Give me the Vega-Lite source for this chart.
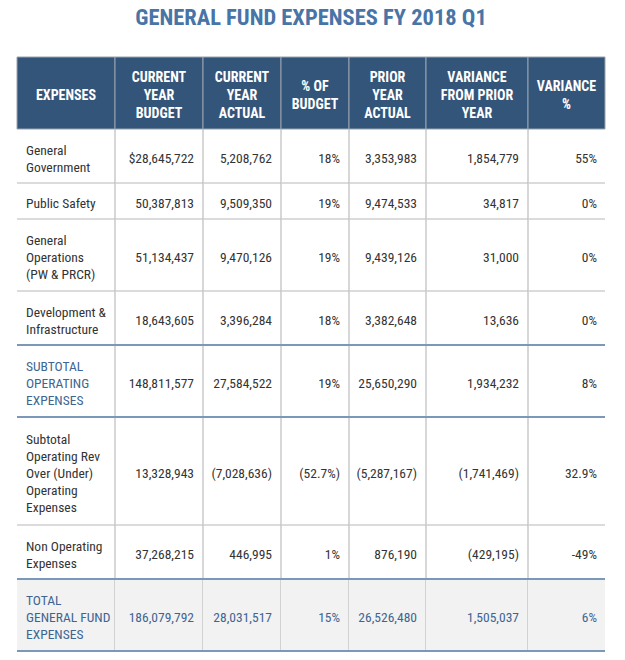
{
  "$schema": "https://vega.github.io/schema/vega-lite/v6.json",
  "padding": {"left": 16, "top": 7, "right": 20, "bottom": 7},
  "background": "#ffffff",
  "title": {
    "text": "GENERAL FUND EXPENSES FY 2018 Q1",
    "fontSize": 22.5,
    "font": "Roboto Condensed, Roboto, sans-serif",
    "fontWeight": "bold",
    "color": "#4874a6",
    "anchor": "middle",
    "offset": 27
  },
  "data": {
    "values": [
      {"row": 0, "section": "header", "expense": "EXPENSES", "budget": "CURRENT\nYEAR\nBUDGET", "actual": "CURRENT\nYEAR\nACTUAL", "pctBudget": "% OF\nBUDGET", "prior": "PRIOR\nYEAR\nACTUAL", "variance": "VARIANCE\nFROM PRIOR\nYEAR", "variancePct": "VARIANCE\n%"},
      {"row": 1, "section": "normal", "expense": "General\nGovernment", "budget": "$28,645,722", "actual": "5,208,762", "pctBudget": "18%", "prior": "3,353,983", "variance": "1,854,779", "variancePct": "55%"},
      {"row": 2, "section": "normal", "expense": "Public Safety", "budget": "50,387,813", "actual": "9,509,350", "pctBudget": "19%", "prior": "9,474,533", "variance": "34,817", "variancePct": "0%"},
      {"row": 3, "section": "normal", "expense": "General\nOperations\n(PW & PRCR)", "budget": "51,134,437", "actual": "9,470,126", "pctBudget": "19%", "prior": "9,439,126", "variance": "31,000", "variancePct": "0%"},
      {"row": 4, "section": "normal", "expense": "Development &\nInfrastructure", "budget": "18,643,605", "actual": "3,396,284", "pctBudget": "18%", "prior": "3,382,648", "variance": "13,636", "variancePct": "0%"},
      {"row": 5, "section": "subtotal", "expense": "SUBTOTAL\nOPERATING\nEXPENSES", "budget": "148,811,577", "actual": "27,584,522", "pctBudget": "19%", "prior": "25,650,290", "variance": "1,934,232", "variancePct": "8%"},
      {"row": 6, "section": "normal", "expense": "Subtotal\nOperating Rev\nOver (Under)\nOperating\nExpenses", "budget": "13,328,943", "actual": "(7,028,636)", "pctBudget": "(52.7%)", "prior": "(5,287,167)", "variance": "(1,741,469)", "variancePct": "32.9%"},
      {"row": 7, "section": "normal", "expense": "Non Operating\nExpenses", "budget": "37,268,215", "actual": "446,995", "pctBudget": "1%", "prior": "876,190", "variance": "(429,195)", "variancePct": "-49%"},
      {"row": 8, "section": "total", "expense": "TOTAL\nGENERAL FUND\nEXPENSES", "budget": "186,079,792", "actual": "28,031,517", "pctBudget": "15%", "prior": "26,526,480", "variance": "1,505,037", "variancePct": "6%"}
    ]
  },
  "transform": [
    {"calculate": "max(length(split(datum.expense,'\\n')), length(split(datum.budget,'\\n')), length(split(datum.actual,'\\n')), length(split(datum.pctBudget,'\\n')), length(split(datum.prior,'\\n')), length(split(datum.variance,'\\n')), length(split(datum.variancePct,'\\n'))) + 1", "as": "units"},
    {"window": [{"op": "sum", "field": "units", "as": "bottom"}], "sort": [{"field": "row"}], "frame": [null, 0]},
    {"calculate": "datum.bottom - datum.units", "as": "top"},
    {"calculate": "(datum.top + datum.bottom) / 2", "as": "mid"},
    {"calculate": "datum.section === 'header' ? 0.5 : 17/36", "as": "half"},
    {"calculate": "datum.mid - (length(split(datum.expense,'\\n')) - 1) * datum.half", "as": "ty_expense"},
    {"calculate": "datum.mid - (length(split(datum.budget,'\\n')) - 1) * datum.half", "as": "ty_budget"},
    {"calculate": "datum.mid - (length(split(datum.actual,'\\n')) - 1) * datum.half", "as": "ty_actual"},
    {"calculate": "datum.mid - (length(split(datum.pctBudget,'\\n')) - 1) * datum.half", "as": "ty_pctBudget"},
    {"calculate": "datum.mid - (length(split(datum.prior,'\\n')) - 1) * datum.half", "as": "ty_prior"},
    {"calculate": "datum.mid - (length(split(datum.variance,'\\n')) - 1) * datum.half", "as": "ty_variance"},
    {"calculate": "datum.mid - (length(split(datum.variancePct,'\\n')) - 1) * datum.half", "as": "ty_variancePct"}
  ],
  "spacing": 0,
  "bounds": "flush",
  "hconcat": [
    {
      "width": 98, "height": 594,
      "layer": [
        {"transform": [{"filter": "datum.section === 'total'"}], "mark": {"type": "rect", "fill": "#f2f2f2"},
         "encoding": {"x": {"datum": 0, "type": "quantitative", "scale": {"domain": [0, 1]}, "axis": null}, "x2": {"datum": 1}, "y": {"field": "top", "type": "quantitative", "scale": {"domain": [0, 33], "reverse": true, "nice": false, "zero": false}, "axis": null}, "y2": {"field": "bottom"}}},
        {"transform": [{"filter": "datum.section === 'header'"}], "mark": {"type": "rect", "fill": "#34557a", "stroke": "#98a3ae", "strokeWidth": 1},
         "encoding": {"x": {"datum": 0, "type": "quantitative"}, "x2": {"datum": 1}, "y": {"field": "top", "type": "quantitative"}, "y2": {"field": "bottom"}}},
        {"transform": [{"filter": "datum.section !== 'header'"}], "mark": {"type": "rule", "color": "#cfcfcf", "strokeWidth": 1.5},
         "encoding": {"x": {"datum": 0, "type": "quantitative"}, "x2": {"datum": 1}, "y": {"field": "bottom", "type": "quantitative"}}},
        {"transform": [{"filter": "datum.section !== 'header'"}], "mark": {"type": "rule", "color": "#bdbdbd", "strokeWidth": 1.2},
         "encoding": {"x": {"datum": 1, "type": "quantitative"}, "y": {"field": "top", "type": "quantitative"}, "y2": {"field": "bottom"}}},
        {"transform": [{"filter": "datum.section === 'subtotal' || datum.section === 'total'"}], "mark": {"type": "rule", "color": "#7b98bb", "strokeWidth": 2},
         "encoding": {"x": {"datum": 0, "type": "quantitative"}, "x2": {"datum": 1}, "y": {"field": "top", "type": "quantitative"}}},
        {"transform": [{"filter": "datum.section === 'subtotal' || datum.section === 'total'"}], "mark": {"type": "rule", "color": "#7b98bb", "strokeWidth": 2},
         "encoding": {"x": {"datum": 0, "type": "quantitative"}, "x2": {"datum": 1}, "y": {"field": "bottom", "type": "quantitative"}}},
        {"transform": [{"filter": "datum.section === 'header'"}], "mark": {"type": "text", "font": "Roboto Condensed, Roboto, sans-serif", "fontWeight": "bold", "fontSize": 14, "lineHeight": 18, "lineBreak": "\n", "align": "center", "baseline": "middle", "dy": 2.5, "color": "#ffffff"},
         "encoding": {"x": {"datum": 0.5, "type": "quantitative"}, "y": {"field": "ty_expense", "type": "quantitative"}, "text": {"field": "expense", "type": "nominal"}}},
        {"transform": [{"filter": "datum.section !== 'header'"}], "mark": {"type": "text", "font": "Roboto Condensed, Roboto, sans-serif", "fontSize": 13.5, "lineHeight": 17, "lineBreak": "\n", "align": "left", "baseline": "middle", "dx": 9, "dy": 3},
         "encoding": {"x": {"datum": 0, "type": "quantitative"}, "y": {"field": "ty_expense", "type": "quantitative"}, "text": {"field": "expense", "type": "nominal"},
           "color": {"condition": {"test": "datum.section === 'subtotal' || datum.section === 'total'", "value": "#3e6591"}, "value": "#333333"}}}
      ]
    },
    {
      "width": 88, "height": 594,
      "layer": [
        {"transform": [{"filter": "datum.section === 'total'"}], "mark": {"type": "rect", "fill": "#f2f2f2"},
         "encoding": {"x": {"datum": 0, "type": "quantitative", "scale": {"domain": [0, 1]}, "axis": null}, "x2": {"datum": 1}, "y": {"field": "top", "type": "quantitative", "scale": {"domain": [0, 33], "reverse": true, "nice": false, "zero": false}, "axis": null}, "y2": {"field": "bottom"}}},
        {"transform": [{"filter": "datum.section === 'header'"}], "mark": {"type": "rect", "fill": "#34557a", "stroke": "#98a3ae", "strokeWidth": 1},
         "encoding": {"x": {"datum": 0, "type": "quantitative"}, "x2": {"datum": 1}, "y": {"field": "top", "type": "quantitative"}, "y2": {"field": "bottom"}}},
        {"transform": [{"filter": "datum.section !== 'header'"}], "mark": {"type": "rule", "color": "#cfcfcf", "strokeWidth": 1.5},
         "encoding": {"x": {"datum": 0, "type": "quantitative"}, "x2": {"datum": 1}, "y": {"field": "bottom", "type": "quantitative"}}},
        {"transform": [{"filter": "datum.section !== 'header'"}], "mark": {"type": "rule", "color": "#bdbdbd", "strokeWidth": 1.2},
         "encoding": {"x": {"datum": 1, "type": "quantitative"}, "y": {"field": "top", "type": "quantitative"}, "y2": {"field": "bottom"}}},
        {"transform": [{"filter": "datum.section === 'subtotal' || datum.section === 'total'"}], "mark": {"type": "rule", "color": "#7b98bb", "strokeWidth": 2},
         "encoding": {"x": {"datum": 0, "type": "quantitative"}, "x2": {"datum": 1}, "y": {"field": "top", "type": "quantitative"}}},
        {"transform": [{"filter": "datum.section === 'subtotal' || datum.section === 'total'"}], "mark": {"type": "rule", "color": "#7b98bb", "strokeWidth": 2},
         "encoding": {"x": {"datum": 0, "type": "quantitative"}, "x2": {"datum": 1}, "y": {"field": "bottom", "type": "quantitative"}}},
        {"transform": [{"filter": "datum.section === 'header'"}], "mark": {"type": "text", "font": "Roboto Condensed, Roboto, sans-serif", "fontWeight": "bold", "fontSize": 14, "lineHeight": 18, "lineBreak": "\n", "align": "center", "baseline": "middle", "dy": 2.5, "color": "#ffffff"},
         "encoding": {"x": {"datum": 0.5, "type": "quantitative"}, "y": {"field": "ty_budget", "type": "quantitative"}, "text": {"field": "budget", "type": "nominal"}}},
        {"transform": [{"filter": "datum.section !== 'header'"}], "mark": {"type": "text", "font": "Roboto Condensed, Roboto, sans-serif", "fontSize": 13.5, "lineHeight": 17, "lineBreak": "\n", "align": "right", "baseline": "middle", "dx": -9, "dy": 3},
         "encoding": {"x": {"datum": 1, "type": "quantitative"}, "y": {"field": "ty_budget", "type": "quantitative"}, "text": {"field": "budget", "type": "nominal"},
           "color": {"condition": {"test": "datum.section === 'total'", "value": "#3e6591"}, "value": "#333333"}}}
      ]
    },
    {
      "width": 78, "height": 594,
      "layer": [
        {"transform": [{"filter": "datum.section === 'total'"}], "mark": {"type": "rect", "fill": "#f2f2f2"},
         "encoding": {"x": {"datum": 0, "type": "quantitative", "scale": {"domain": [0, 1]}, "axis": null}, "x2": {"datum": 1}, "y": {"field": "top", "type": "quantitative", "scale": {"domain": [0, 33], "reverse": true, "nice": false, "zero": false}, "axis": null}, "y2": {"field": "bottom"}}},
        {"transform": [{"filter": "datum.section === 'header'"}], "mark": {"type": "rect", "fill": "#34557a", "stroke": "#98a3ae", "strokeWidth": 1},
         "encoding": {"x": {"datum": 0, "type": "quantitative"}, "x2": {"datum": 1}, "y": {"field": "top", "type": "quantitative"}, "y2": {"field": "bottom"}}},
        {"transform": [{"filter": "datum.section !== 'header'"}], "mark": {"type": "rule", "color": "#cfcfcf", "strokeWidth": 1.5},
         "encoding": {"x": {"datum": 0, "type": "quantitative"}, "x2": {"datum": 1}, "y": {"field": "bottom", "type": "quantitative"}}},
        {"transform": [{"filter": "datum.section !== 'header'"}], "mark": {"type": "rule", "color": "#bdbdbd", "strokeWidth": 1.2},
         "encoding": {"x": {"datum": 1, "type": "quantitative"}, "y": {"field": "top", "type": "quantitative"}, "y2": {"field": "bottom"}}},
        {"transform": [{"filter": "datum.section === 'subtotal' || datum.section === 'total'"}], "mark": {"type": "rule", "color": "#7b98bb", "strokeWidth": 2},
         "encoding": {"x": {"datum": 0, "type": "quantitative"}, "x2": {"datum": 1}, "y": {"field": "top", "type": "quantitative"}}},
        {"transform": [{"filter": "datum.section === 'subtotal' || datum.section === 'total'"}], "mark": {"type": "rule", "color": "#7b98bb", "strokeWidth": 2},
         "encoding": {"x": {"datum": 0, "type": "quantitative"}, "x2": {"datum": 1}, "y": {"field": "bottom", "type": "quantitative"}}},
        {"transform": [{"filter": "datum.section === 'header'"}], "mark": {"type": "text", "font": "Roboto Condensed, Roboto, sans-serif", "fontWeight": "bold", "fontSize": 14, "lineHeight": 18, "lineBreak": "\n", "align": "center", "baseline": "middle", "dy": 2.5, "color": "#ffffff"},
         "encoding": {"x": {"datum": 0.5, "type": "quantitative"}, "y": {"field": "ty_actual", "type": "quantitative"}, "text": {"field": "actual", "type": "nominal"}}},
        {"transform": [{"filter": "datum.section !== 'header'"}], "mark": {"type": "text", "font": "Roboto Condensed, Roboto, sans-serif", "fontSize": 13.5, "lineHeight": 17, "lineBreak": "\n", "align": "right", "baseline": "middle", "dx": -9, "dy": 3},
         "encoding": {"x": {"datum": 1, "type": "quantitative"}, "y": {"field": "ty_actual", "type": "quantitative"}, "text": {"field": "actual", "type": "nominal"},
           "color": {"condition": {"test": "datum.section === 'total'", "value": "#3e6591"}, "value": "#333333"}}}
      ]
    },
    {
      "width": 68, "height": 594,
      "layer": [
        {"transform": [{"filter": "datum.section === 'total'"}], "mark": {"type": "rect", "fill": "#f2f2f2"},
         "encoding": {"x": {"datum": 0, "type": "quantitative", "scale": {"domain": [0, 1]}, "axis": null}, "x2": {"datum": 1}, "y": {"field": "top", "type": "quantitative", "scale": {"domain": [0, 33], "reverse": true, "nice": false, "zero": false}, "axis": null}, "y2": {"field": "bottom"}}},
        {"transform": [{"filter": "datum.section === 'header'"}], "mark": {"type": "rect", "fill": "#34557a", "stroke": "#98a3ae", "strokeWidth": 1},
         "encoding": {"x": {"datum": 0, "type": "quantitative"}, "x2": {"datum": 1}, "y": {"field": "top", "type": "quantitative"}, "y2": {"field": "bottom"}}},
        {"transform": [{"filter": "datum.section !== 'header'"}], "mark": {"type": "rule", "color": "#cfcfcf", "strokeWidth": 1.5},
         "encoding": {"x": {"datum": 0, "type": "quantitative"}, "x2": {"datum": 1}, "y": {"field": "bottom", "type": "quantitative"}}},
        {"transform": [{"filter": "datum.section !== 'header'"}], "mark": {"type": "rule", "color": "#bdbdbd", "strokeWidth": 1.2},
         "encoding": {"x": {"datum": 1, "type": "quantitative"}, "y": {"field": "top", "type": "quantitative"}, "y2": {"field": "bottom"}}},
        {"transform": [{"filter": "datum.section === 'subtotal' || datum.section === 'total'"}], "mark": {"type": "rule", "color": "#7b98bb", "strokeWidth": 2},
         "encoding": {"x": {"datum": 0, "type": "quantitative"}, "x2": {"datum": 1}, "y": {"field": "top", "type": "quantitative"}}},
        {"transform": [{"filter": "datum.section === 'subtotal' || datum.section === 'total'"}], "mark": {"type": "rule", "color": "#7b98bb", "strokeWidth": 2},
         "encoding": {"x": {"datum": 0, "type": "quantitative"}, "x2": {"datum": 1}, "y": {"field": "bottom", "type": "quantitative"}}},
        {"transform": [{"filter": "datum.section === 'header'"}], "mark": {"type": "text", "font": "Roboto Condensed, Roboto, sans-serif", "fontWeight": "bold", "fontSize": 14, "lineHeight": 18, "lineBreak": "\n", "align": "center", "baseline": "middle", "dy": 2.5, "color": "#ffffff"},
         "encoding": {"x": {"datum": 0.5, "type": "quantitative"}, "y": {"field": "ty_pctBudget", "type": "quantitative"}, "text": {"field": "pctBudget", "type": "nominal"}}},
        {"transform": [{"filter": "datum.section !== 'header'"}], "mark": {"type": "text", "font": "Roboto Condensed, Roboto, sans-serif", "fontSize": 13.5, "lineHeight": 17, "lineBreak": "\n", "align": "right", "baseline": "middle", "dx": -9, "dy": 3},
         "encoding": {"x": {"datum": 1, "type": "quantitative"}, "y": {"field": "ty_pctBudget", "type": "quantitative"}, "text": {"field": "pctBudget", "type": "nominal"},
           "color": {"condition": {"test": "datum.section === 'total'", "value": "#3e6591"}, "value": "#333333"}}}
      ]
    },
    {
      "width": 77, "height": 594,
      "layer": [
        {"transform": [{"filter": "datum.section === 'total'"}], "mark": {"type": "rect", "fill": "#f2f2f2"},
         "encoding": {"x": {"datum": 0, "type": "quantitative", "scale": {"domain": [0, 1]}, "axis": null}, "x2": {"datum": 1}, "y": {"field": "top", "type": "quantitative", "scale": {"domain": [0, 33], "reverse": true, "nice": false, "zero": false}, "axis": null}, "y2": {"field": "bottom"}}},
        {"transform": [{"filter": "datum.section === 'header'"}], "mark": {"type": "rect", "fill": "#34557a", "stroke": "#98a3ae", "strokeWidth": 1},
         "encoding": {"x": {"datum": 0, "type": "quantitative"}, "x2": {"datum": 1}, "y": {"field": "top", "type": "quantitative"}, "y2": {"field": "bottom"}}},
        {"transform": [{"filter": "datum.section !== 'header'"}], "mark": {"type": "rule", "color": "#cfcfcf", "strokeWidth": 1.5},
         "encoding": {"x": {"datum": 0, "type": "quantitative"}, "x2": {"datum": 1}, "y": {"field": "bottom", "type": "quantitative"}}},
        {"transform": [{"filter": "datum.section !== 'header'"}], "mark": {"type": "rule", "color": "#bdbdbd", "strokeWidth": 1.2},
         "encoding": {"x": {"datum": 1, "type": "quantitative"}, "y": {"field": "top", "type": "quantitative"}, "y2": {"field": "bottom"}}},
        {"transform": [{"filter": "datum.section === 'subtotal' || datum.section === 'total'"}], "mark": {"type": "rule", "color": "#7b98bb", "strokeWidth": 2},
         "encoding": {"x": {"datum": 0, "type": "quantitative"}, "x2": {"datum": 1}, "y": {"field": "top", "type": "quantitative"}}},
        {"transform": [{"filter": "datum.section === 'subtotal' || datum.section === 'total'"}], "mark": {"type": "rule", "color": "#7b98bb", "strokeWidth": 2},
         "encoding": {"x": {"datum": 0, "type": "quantitative"}, "x2": {"datum": 1}, "y": {"field": "bottom", "type": "quantitative"}}},
        {"transform": [{"filter": "datum.section === 'header'"}], "mark": {"type": "text", "font": "Roboto Condensed, Roboto, sans-serif", "fontWeight": "bold", "fontSize": 14, "lineHeight": 18, "lineBreak": "\n", "align": "center", "baseline": "middle", "dy": 2.5, "color": "#ffffff"},
         "encoding": {"x": {"datum": 0.5, "type": "quantitative"}, "y": {"field": "ty_prior", "type": "quantitative"}, "text": {"field": "prior", "type": "nominal"}}},
        {"transform": [{"filter": "datum.section !== 'header'"}], "mark": {"type": "text", "font": "Roboto Condensed, Roboto, sans-serif", "fontSize": 13.5, "lineHeight": 17, "lineBreak": "\n", "align": "right", "baseline": "middle", "dx": -9, "dy": 3},
         "encoding": {"x": {"datum": 1, "type": "quantitative"}, "y": {"field": "ty_prior", "type": "quantitative"}, "text": {"field": "prior", "type": "nominal"},
           "color": {"condition": {"test": "datum.section === 'total'", "value": "#3e6591"}, "value": "#333333"}}}
      ]
    },
    {
      "width": 102, "height": 594,
      "layer": [
        {"transform": [{"filter": "datum.section === 'total'"}], "mark": {"type": "rect", "fill": "#f2f2f2"},
         "encoding": {"x": {"datum": 0, "type": "quantitative", "scale": {"domain": [0, 1]}, "axis": null}, "x2": {"datum": 1}, "y": {"field": "top", "type": "quantitative", "scale": {"domain": [0, 33], "reverse": true, "nice": false, "zero": false}, "axis": null}, "y2": {"field": "bottom"}}},
        {"transform": [{"filter": "datum.section === 'header'"}], "mark": {"type": "rect", "fill": "#34557a", "stroke": "#98a3ae", "strokeWidth": 1},
         "encoding": {"x": {"datum": 0, "type": "quantitative"}, "x2": {"datum": 1}, "y": {"field": "top", "type": "quantitative"}, "y2": {"field": "bottom"}}},
        {"transform": [{"filter": "datum.section !== 'header'"}], "mark": {"type": "rule", "color": "#cfcfcf", "strokeWidth": 1.5},
         "encoding": {"x": {"datum": 0, "type": "quantitative"}, "x2": {"datum": 1}, "y": {"field": "bottom", "type": "quantitative"}}},
        {"transform": [{"filter": "datum.section !== 'header'"}], "mark": {"type": "rule", "color": "#bdbdbd", "strokeWidth": 1.2},
         "encoding": {"x": {"datum": 1, "type": "quantitative"}, "y": {"field": "top", "type": "quantitative"}, "y2": {"field": "bottom"}}},
        {"transform": [{"filter": "datum.section === 'subtotal' || datum.section === 'total'"}], "mark": {"type": "rule", "color": "#7b98bb", "strokeWidth": 2},
         "encoding": {"x": {"datum": 0, "type": "quantitative"}, "x2": {"datum": 1}, "y": {"field": "top", "type": "quantitative"}}},
        {"transform": [{"filter": "datum.section === 'subtotal' || datum.section === 'total'"}], "mark": {"type": "rule", "color": "#7b98bb", "strokeWidth": 2},
         "encoding": {"x": {"datum": 0, "type": "quantitative"}, "x2": {"datum": 1}, "y": {"field": "bottom", "type": "quantitative"}}},
        {"transform": [{"filter": "datum.section === 'header'"}], "mark": {"type": "text", "font": "Roboto Condensed, Roboto, sans-serif", "fontWeight": "bold", "fontSize": 14, "lineHeight": 18, "lineBreak": "\n", "align": "center", "baseline": "middle", "dy": 2.5, "color": "#ffffff"},
         "encoding": {"x": {"datum": 0.5, "type": "quantitative"}, "y": {"field": "ty_variance", "type": "quantitative"}, "text": {"field": "variance", "type": "nominal"}}},
        {"transform": [{"filter": "datum.section !== 'header'"}], "mark": {"type": "text", "font": "Roboto Condensed, Roboto, sans-serif", "fontSize": 13.5, "lineHeight": 17, "lineBreak": "\n", "align": "right", "baseline": "middle", "dx": -9, "dy": 3},
         "encoding": {"x": {"datum": 1, "type": "quantitative"}, "y": {"field": "ty_variance", "type": "quantitative"}, "text": {"field": "variance", "type": "nominal"},
           "color": {"condition": {"test": "datum.section === 'total'", "value": "#3e6591"}, "value": "#333333"}}}
      ]
    },
    {
      "width": 77, "height": 594,
      "layer": [
        {"transform": [{"filter": "datum.section === 'total'"}], "mark": {"type": "rect", "fill": "#f2f2f2"},
         "encoding": {"x": {"datum": 0, "type": "quantitative", "scale": {"domain": [0, 1]}, "axis": null}, "x2": {"datum": 1}, "y": {"field": "top", "type": "quantitative", "scale": {"domain": [0, 33], "reverse": true, "nice": false, "zero": false}, "axis": null}, "y2": {"field": "bottom"}}},
        {"transform": [{"filter": "datum.section === 'header'"}], "mark": {"type": "rect", "fill": "#34557a", "stroke": "#98a3ae", "strokeWidth": 1},
         "encoding": {"x": {"datum": 0, "type": "quantitative"}, "x2": {"datum": 1}, "y": {"field": "top", "type": "quantitative"}, "y2": {"field": "bottom"}}},
        {"transform": [{"filter": "datum.section !== 'header'"}], "mark": {"type": "rule", "color": "#cfcfcf", "strokeWidth": 1.5},
         "encoding": {"x": {"datum": 0, "type": "quantitative"}, "x2": {"datum": 1}, "y": {"field": "bottom", "type": "quantitative"}}},
        {"transform": [{"filter": "datum.section === 'subtotal' || datum.section === 'total'"}], "mark": {"type": "rule", "color": "#7b98bb", "strokeWidth": 2},
         "encoding": {"x": {"datum": 0, "type": "quantitative"}, "x2": {"datum": 1}, "y": {"field": "top", "type": "quantitative"}}},
        {"transform": [{"filter": "datum.section === 'subtotal' || datum.section === 'total'"}], "mark": {"type": "rule", "color": "#7b98bb", "strokeWidth": 2},
         "encoding": {"x": {"datum": 0, "type": "quantitative"}, "x2": {"datum": 1}, "y": {"field": "bottom", "type": "quantitative"}}},
        {"transform": [{"filter": "datum.section === 'header'"}], "mark": {"type": "text", "font": "Roboto Condensed, Roboto, sans-serif", "fontWeight": "bold", "fontSize": 14, "lineHeight": 18, "lineBreak": "\n", "align": "center", "baseline": "middle", "dy": 2.5, "color": "#ffffff"},
         "encoding": {"x": {"datum": 0.5, "type": "quantitative"}, "y": {"field": "ty_variancePct", "type": "quantitative"}, "text": {"field": "variancePct", "type": "nominal"}}},
        {"transform": [{"filter": "datum.section !== 'header'"}], "mark": {"type": "text", "font": "Roboto Condensed, Roboto, sans-serif", "fontSize": 13.5, "lineHeight": 17, "lineBreak": "\n", "align": "right", "baseline": "middle", "dx": -8, "dy": 3},
         "encoding": {"x": {"datum": 1, "type": "quantitative"}, "y": {"field": "ty_variancePct", "type": "quantitative"}, "text": {"field": "variancePct", "type": "nominal"},
           "color": {"condition": {"test": "datum.section === 'total'", "value": "#3e6591"}, "value": "#333333"}}}
      ]
    }
  ],
  "config": {
    "view": {"stroke": null}
  }
}
